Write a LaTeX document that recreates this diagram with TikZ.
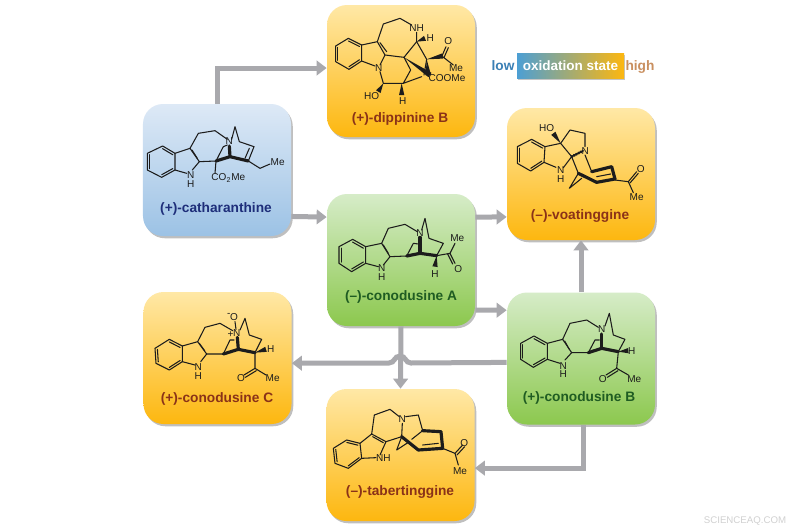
\documentclass[tikz,border=0pt]{standalone}
\usepackage{fontspec}
\setmainfont{Liberation Sans}
\usetikzlibrary{calc,shadows,arrows.meta}

\definecolor{oranLight}{HTML}{FFE8A6}
\definecolor{oranDark}{HTML}{FDB70F}
\definecolor{blueLight}{HTML}{DDE9F6}
\definecolor{blueDark}{HTML}{9CC2E5}
\definecolor{grenLight}{HTML}{D6ECC8}
\definecolor{grenDark}{HTML}{8CC84E}
\definecolor{flowGrey}{HTML}{A9A9AD}
\definecolor{bondInk}{HTML}{1C1C1C}
\definecolor{oxBlue}{HTML}{4C9FD4}
\definecolor{lowBlue}{HTML}{3A7FB5}
\definecolor{highTan}{HTML}{C98F5F}
\definecolor{titleRed}{HTML}{8A3218}
\definecolor{titleNavy}{HTML}{1E2E7A}
\definecolor{titleGreen}{HTML}{1F5C22}

\tikzset{
	card/.style={minimum width=29.6mm,minimum height=26.4mm,rounded corners=4mm,inner sep=0pt,
		drop shadow={shadow xshift=.35mm,shadow yshift=-.45mm,fill=black!45,opacity=.55}},
	oranCard/.style={card,top color=oranLight,bottom color=oranDark},
	blueCard/.style={card,top color=blueLight,bottom color=blueDark},
	grenCard/.style={card,top color=grenLight,bottom color=grenDark},
	title/.style={font=\fontsize{7.8}{9}\selectfont\bfseries,inner sep=0pt},
	atom/.style={font=\fontsize{5.7}{7}\selectfont,inner sep=0pt,text=bondInk},
	flow/.style={draw=flowGrey,line width=1mm,-{Triangle[length=2mm,width=2.9mm]}},
	bond/.style={draw=bondInk,line width=.6pt,line cap=round,line join=round},
	boldbond/.style={draw=bondInk,line width=1.8pt,line cap=round,line join=round},
	zoomed/.style={shift={#1},x=.06667mm,y=-.06667mm},
}

\newcommand{\inbond}[3]{\draw[bond] ($(#1)!.17!(#3)$) -- ($(#2)!.17!(#3)$);}
\newcommand{\benzene}[6]{
	\draw[bond] (#1) -- (#2) -- (#3) -- (#4) -- (#5) -- (#6) -- cycle;
	\coordinate (rc) at ($(#1)!.5!(#4)$);
	\inbond{#1}{#2}{rc} \inbond{#3}{#4}{rc} \inbond{#5}{#6}{rc}
}
\newcommand{\wedgebond}[2]{\fill[bondInk] (#1) -- ($(#2)!1.5pt!90:(#1)$) -- ($(#2)!1.5pt!-90:(#1)$) -- cycle;}

\begin{document}
\begin{tikzpicture}[x=.2mm,y=-.2mm]
	\useasboundingbox (0,0) rectangle (800,530);
	\fill[white] (0,0) rectangle (800,530);

	% cards
	\node[oranCard] (dippinine) at (401,71) {};
	\node[blueCard] (catharanthine) at (217,170) {};
	\node[grenCard] (conodusineA) at (401,260) {};
	\node[oranCard] (voatinggine) at (581,174) {};
	\node[oranCard] (conodusineC) at (217.5,358) {};
	\node[grenCard] (conodusineB) at (581,358.5) {};
	\node[oranCard] (tabertinggine) at (400.5,455) {};

	% flows
	\draw[flow] (catharanthine.north) |- ([yshift=.6mm]dippinine.west);
	\draw[flow] (catharanthine.-32) -- (conodusineA.150);
	\draw[flow] (conodusineA.30) -- (voatinggine.210);
	\draw[flow] (conodusineA.-34) -- (conodusineB.147);
	\draw[flow] (conodusineB.north) -- (voatinggine.south);
	\draw[flow] (conodusineA.south) -- (tabertinggine.north);
	\coordinate (hopR) at (411,363);
	\coordinate (hopTop) at (400,356);
	\coordinate (hopL) at (389,363);
	\draw[flow] (conodusineB.183.5) -- (hopR) .. controls (405,363) and (406,356) .. (hopTop)
		.. controls (394,356) and (395,363) .. (hopL) -- (conodusineC.-4);
	\draw[flow] ([xshift=.4mm]conodusineB.south) |- (tabertinggine.-10);

	% legend
	\node[minimum width=21.4mm,minimum height=5mm,inner sep=0pt,left color=oxBlue,middle color=grenDark,right color=oranDark,
		drop shadow={shadow xshift=.25mm,shadow yshift=-.3mm,fill=black!45,opacity=.5},
		text=white,font=\fontsize{7.7}{9}\selectfont\bfseries] (oxbar) at (570.5,65.5) {oxidation state};
	\node[title,text=lowBlue] (oxlow) at (503,66) {low};
	\node[title,text=highTan] (oxhigh) at (640,67) {high};

	% titles
	\node[title,text=titleRed] (tdip) at (400,119) {(+)-dippinine B};
	\node[title,text=titleNavy] (tcat) at (216,209) {(+)-catharanthine};
	\node[title,text=titleGreen] (tcoA) at (401,297) {(--)-conodusine A};
	\node[title,text=titleRed] (tvoa) at (580,216) {(--)-voatinggine};
	\node[title,text=titleRed] (tcoC) at (217,399) {(+)-conodusine C};
	\node[title,text=titleGreen] (tcoB) at (579,398) {(+)-conodusine B};
	\node[title,text=titleRed] (ttab) at (400,492) {(--)-tabertinggine};

	\node[font=\fontsize{5.5}{7}\selectfont,text=black!18] (wmark) at (745,521) {SCIENCEAQ.COM};

	% dippinine B
	\begin{scope}[zoomed={(320,0)}]
		\benzene{85,115}{125,135}{125,183}{87,208}{47,185}{47,138}
		\draw[bond] (125,135) -- (172,125) -- (190,72) -- (240,55) -- (275,75);
		\draw[bond] (172,125) -- (195,165) -- (180,195);
		\draw[bond] (180,128) -- (200,155);
		\draw[bond] (125,183) -- (165,198);
		\draw[bond] (195,165) -- (252,172) -- (290,125) -- (290,97);
		\draw[bond] (290,125) -- (320,178) -- (312,225);
		\draw[bond] (252,172) -- (272,210) -- (250,250) -- (305,230);
		\draw[bond] (180,215) -- (190,250) -- (250,250);
		\draw[bond] (365,170) -- (378,140);
		\draw[bond] (372,173) -- (385,143);
		\draw[bond] (368,170) -- (400,195);
		\wedgebond{252,172}{330,225}
		\wedgebond{320,178}{368,168}
		\wedgebond{320,178}{325,225}
		\wedgebond{290,125}{315,115}
		\wedgebond{190,250}{175,275}
		\wedgebond{245,250}{245,285}
		\node[atom] (dipNH) at (290,85) {NH};
		\node[atom] (dipH1) at (331,113) {H};
		\node[atom] (dipO) at (385,122) {O};
		\node[atom] (dipMe) at (408,205) {Me};
		\node[atom] (dipCO) at (381,235) {COOMe};
		\node[atom] (dipN) at (176,205) {N};
		\node[atom] (dipHO) at (155,288) {HO};
		\node[atom] (dipH2) at (248,302) {H};
	\end{scope}

	% voatinggine
	\begin{scope}[zoomed={(320,0)}]
		\benzene{635,418}{675,440}{672,487}{632,513}{592,490}{592,440}
		\draw[bond] (675,440) -- (722,430) -- (755,470) -- (730,503);
		\draw[bond] (672,487) -- (708,502);
		\draw[bond] (722,430) -- (750,390) -- (795,400) -- (795,440);
		\draw[bond] (755,470) -- (775,520) -- (748,565) -- (785,535);
		\draw[bond] (795,465) -- (815,515);
		\draw[boldbond] (775,520) -- (830,547) -- (885,537) -- (875,500) -- (815,515);
		\draw[bond] (830,530) -- (872,522);
		\draw[bond] (885,540) -- (925,545) -- (950,515);
		\draw[bond] (930,549) -- (955,520);
		\draw[bond] (925,545) -- (940,578);
		\wedgebond{722,430}{700,400}
		\draw[bond,line width=1.5pt,dash pattern=on .5pt off .9pt] (755,470) -- (788,453);
		\node[atom] (voaHO) at (680,385) {HO};
		\node[atom] (voaN) at (796,452) {N};
		\node[atom] (voaNH) at (722,511) {N};
		\node[atom] (voaH) at (722,536) {H};
		\node[atom] (voaO) at (962,508) {O};
		\node[atom] (voaMe) at (950,592) {Me};
	\end{scope}

	% catharanthine
	\begin{scope}[zoomed={(130,90)}]
		\benzene{98,168}{135,190}{135,240}{95,262}{52,240}{52,190}
		\draw[bond] (135,190) -- (180,175) -- (208,215) -- (187,240);
		\draw[bond] (186,180) -- (202,205);
		\draw[bond] (135,240) -- (170,250);
		\draw[bond] (180,175) -- (205,130) -- (255,122) -- (292,148);
		\draw[bond] (208,215) -- (258,213) -- (255,250);
		\draw[bond] (258,213) -- (280,170) -- (292,165);
		\draw[bond] (305,148) -- (315,110) -- (328,155) -- (372,170);
		\draw[bond] (355,213) -- (372,170);
		\draw[bond] (345,205) -- (358,175);
		\draw[bond] (355,213) -- (390,235) -- (420,222);
		\draw[boldbond] (258,213) -- (300,200) -- (355,213);
		\draw[boldbond] (300,200) -- (298,168);
		\node[atom] (catN) at (298,153) {N};
		\node[atom] (catNH) at (182,255) {N};
		\node[atom] (catH) at (182,282) {H};
		\node[atom] (catCO) at (295,265) {CO\textsubscript{2}Me};
		\node[atom] (catMe) at (443,217) {Me};
	\end{scope}

	% conodusine A
	\begin{scope}[zoomed={(130,90)}]
		\benzene{668,448}{707,470}{707,520}{665,545}{627,520}{627,470}
		\draw[bond] (707,470) -- (755,460) -- (780,500) -- (760,525);
		\draw[bond] (760,465) -- (775,490);
		\draw[bond] (707,520) -- (745,530);
		\draw[bond] (755,460) -- (775,415) -- (825,403) -- (862,425);
		\draw[bond] (780,500) -- (830,498);
		\draw[bond] (830,498) -- (850,460) -- (865,462);
		\draw[bond] (875,420) -- (885,385) -- (897,445) -- (940,460) -- (920,497);
		\draw[boldbond] (830,498) -- (870,490) -- (920,497);
		\draw[boldbond] (870,490) -- (870,442);
		\wedgebond{920,497}{915,530}
		\draw[bond] (920,497) -- (960,490) -- (975,520);
		\draw[bond] (953,492) -- (968,522);
		\draw[bond] (960,490) -- (975,460);
		\node[atom] (coaN) at (870,428) {N};
		\node[atom] (coaNH) at (755,535) {N};
		\node[atom] (coaHN) at (755,560) {H};
		\node[atom] (coaH) at (915,553) {H};
		\node[atom] (coaO) at (985,537) {O};
		\node[atom] (coaMe) at (982,445) {Me};
	\end{scope}

	% conodusine C
	\begin{scope}[zoomed={(130,280)}]
		\benzene{118,178}{157,198}{157,245}{118,270}{78,250}{75,205}
		\draw[bond] (157,198) -- (203,185) -- (230,222) -- (212,245);
		\draw[bond] (208,190) -- (224,212);
		\draw[bond] (157,245) -- (195,255);
		\draw[bond] (203,185) -- (225,142) -- (270,130) -- (308,152);
		\draw[bond] (230,222) -- (280,222) -- (300,180) -- (312,180);
		\draw[bond] (330,150) -- (345,115) -- (358,165) -- (395,178) -- (375,218);
		\draw[bond] (318,148) -- (315,125);
		\draw[boldbond] (280,222) -- (325,208) -- (375,218);
		\draw[boldbond] (325,208) -- (322,172);
		\wedgebond{375,218}{408,208}
		\draw[bond] (375,218) -- (375,265) -- (342,285);
		\draw[bond] (379,272) -- (346,292);
		\draw[bond] (375,265) -- (408,285);
		\node[atom] (cocN) at (320,158) {N};
		\node[atom] (cocPlus) at (302,163) {+};
		\node[atom] (cocO) at (312,112) {O};
		\node[atom] (cocMinus) at (296,104) {-};
		\node[atom] (cocH) at (422,208) {H};
		\node[atom] (cocNH) at (205,262) {N};
		\node[atom] (cocHN) at (205,287) {H};
		\node[atom] (cocOb) at (333,295) {O};
		\node[atom] (cocMe) at (428,295) {Me};
	\end{scope}

	% conodusine B
	\begin{scope}[zoomed={(320,280)}]
		\benzene{642,168}{682,190}{682,238}{640,262}{602,238}{602,190}
		\draw[bond] (682,190) -- (728,178) -- (755,218) -- (735,240);
		\draw[bond] (734,183) -- (748,208);
		\draw[bond] (682,238) -- (720,250);
		\draw[bond] (728,178) -- (750,130) -- (800,120) -- (835,142);
		\draw[bond] (755,218) -- (805,218) -- (825,180) -- (838,180);
		\draw[bond] (855,138) -- (868,100) -- (880,165) -- (915,178) -- (895,215);
		\draw[boldbond] (805,218) -- (845,205) -- (895,215);
		\draw[boldbond] (845,205) -- (845,162);
		\wedgebond{895,215}{925,212}
		\draw[bond] (895,215) -- (890,265) -- (858,285);
		\draw[bond] (894,272) -- (862,292);
		\draw[bond] (890,265) -- (925,285);
		\node[atom] (cobN) at (845,148) {N};
		\node[atom] (cobH) at (935,212) {H};
		\node[atom] (cobNH) at (730,258) {N};
		\node[atom] (cobHN) at (730,282) {H};
		\node[atom] (cobO) at (848,297) {O};
		\node[atom] (cobMe) at (943,297) {Me};
	\end{scope}

	% tabertinggine
	\begin{scope}[zoomed={(130,280)}]
		\benzene{650,480}{690,490}{695,535}{655,565}{615,550}{610,505}
		\draw[bond] (690,490) -- (725,462) -- (768,485) -- (750,525);
		\draw[bond] (728,470) -- (760,488);
		\draw[bond] (695,535) -- (738,533);
		\draw[bond] (725,462) -- (733,405) -- (780,388) -- (808,410);
		\draw[bond] (768,485) -- (815,470) -- (817,430);
		\draw[bond] (815,470) -- (800,510) -- (835,487);
		\draw[bond] (827,410) -- (865,405) -- (878,452);
		\draw[bond] (845,478) -- (878,452);
		\draw[boldbond] (815,470) -- (865,510) -- (938,505) -- (933,455) -- (878,452);
		\draw[bond] (878,495) -- (925,490);
		\draw[bond] (938,505) -- (975,520) -- (998,495);
		\draw[bond] (981,525) -- (1004,500);
		\draw[bond] (975,520) -- (985,555);
		\node[atom] (tabN) at (817,418) {N};
		\node[atom] (tabNH) at (760,535) {NH};
		\node[atom] (tabO) at (1003,488) {O};
		\node[atom] (tabMe) at (990,572) {Me};
	\end{scope}
\end{tikzpicture}
\end{document}
